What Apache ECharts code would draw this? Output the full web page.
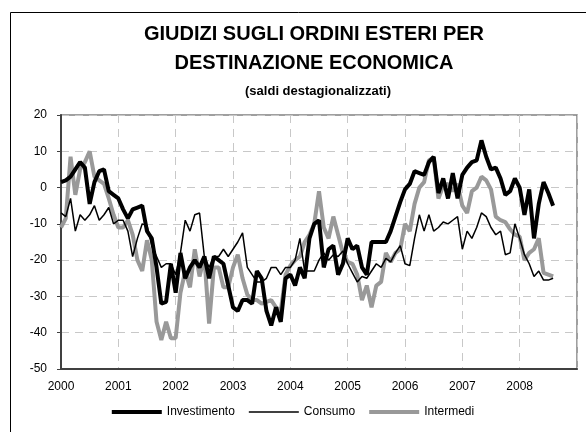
<!DOCTYPE html>
<html>
<head>
<meta charset="utf-8">
<script src="https://cdn.jsdelivr.net/npm/echarts@6/dist/echarts.min.js"></script>
<style>
html,body{margin:0;padding:0;background:#fff;}
#chart{width:586px;height:432px;}
</style>
</head>
<body>
<div id="chart"></div>
<script>
const years = ['2000','2001','2002','2003','2004','2005','2006','2007','2008'];
const seriesNames = ['Investimento','Consumo','Intermedi'];
const titleLines = ['GIUDIZI SUGLI ORDINI ESTERI PER','DESTINAZIONE ECONOMICA'];
const subtitle = '(saldi destagionalizzati)';

// monthly values, Jan 2000 - Aug 2008
const investimento = [
 1.5, 2, 3, 5, 7, 5.5, -4.5, 1.5, 4.5, 5, -1, -2,
 -3, -6, -8.5, -6, -5.5, -5, -12, -14, -22, -32, -31.5, -21,
 -29, -18, -25, -22, -20, -22, -19, -25, -19, -20, -21, -27,
 -33, -34, -31, -31, -32, -23, -25, -34, -38, -33, -37, -25,
 -24, -27, -22, -25, -14, -10, -9, -22, -17, -16, -24, -21,
 -14, -17, -16, -22, -24, -15, -15, -15, -15, -12, -8, -4,
 -0.5, 1, 4.5, 4, 3.5, 7, 8.5, -1.5, 2.5, -3, 4, -3,
 3.5, 5.5, 7, 7.5, 13, 8.5, 5, 5.5, 2.5, -2, -1, 2.5,
 0, -7.5, -0.5, -14, -4.5, 1.5, -1.5, -5
];
const consumo = [
 -7, -8, -3, -12, -7.5, -9, -7.5, -5, -9, -7.5, -5.5, -10,
 -9, -9, -12, -19, -14, -10, -10.5, -16, -19, -22, -21, -21,
 -24, -18, -9, -12, -7.5, -7, -19, -22, -19, -19, -17, -19,
 -17, -15, -12.5, -22, -24, -26, -26, -25, -22, -22, -24, -22,
 -22, -20, -14, -23, -23, -23, -20, -18, -20, -18.5, -19, -17.5,
 -21, -23.5, -26, -24.5, -25, -23, -21, -22, -19.5, -20.5, -18, -16,
 -21, -21.5, -14, -7.5, -12, -7.5, -12, -11, -9.5, -10, -9, -8,
 -17, -12, -14, -11, -7, -8, -11, -13, -12, -18.5, -18, -10,
 -14, -18.5, -21, -24.5, -23, -25.5, -25.5, -25
];
const intermedi = [
 -11, -8.5, 8.5, -2, 5, 7, 10, 3, 2, 1, -3, -7.5,
 -11, -11, -9, -13, -20, -23, -14.5, -20, -37, -42, -37, -41.5,
 -41.5, -29, -23, -27.5, -17, -24.5, -19, -37.5, -22, -22, -27.5, -27.5,
 -22, -18.5, -25, -29.5, -31, -31, -32, -31.5, -31, -33, -34, -24,
 -21.5, -20, -19, -15, -13, -10, -1, -11, -14, -8, -13, -18,
 -20.5, -21, -24, -31, -27, -33, -27, -26, -18, -20.5, -18, -17,
 -10, -12, -4.5, 0, 1.5, 7.5, 8.3, -3, 0.5, 1, -1, 1,
 -5, -7, -1, 0, 3, 2, -0.5, -8, -9, -9.5, -11.5, -13,
 -13.5, -20, -18, -17, -14, -23.5, -24, -24.5
];

const categories = [];
years.forEach(y => { for (let m = 1; m <= 12; m++) categories.push(y + '-' + m); });
categories.push('2009-1');

const FONT = 'Liberation Sans, Arial, sans-serif';
const chart = echarts.init(document.getElementById('chart'), null, {renderer: 'canvas'});
const yearTick = idx => idx % 12 === 0;

chart.setOption({
  animation: false,
  backgroundColor: '#fff',
  textStyle: {fontFamily: FONT},
  graphic: [
    {type: 'rect', shape: {x: 10.5, y: 12.5, width: 700, height: 500}, style: {fill: 'none', stroke: '#000', lineWidth: 1}, silent: true, z: -1},
    {type: 'text', x: 314, y: 34, style: {text: titleLines[0], font: 'bold 20px ' + FONT, fill: '#000', textAlign: 'center', textVerticalAlign: 'middle'}},
    {type: 'text', x: 314, y: 63, style: {text: titleLines[1], font: 'bold 20px ' + FONT, fill: '#000', textAlign: 'center', textVerticalAlign: 'middle'}},
    {type: 'text', x: 318, y: 91, style: {text: subtitle, font: 'bold 13px ' + FONT, fill: '#000', textAlign: 'center', textVerticalAlign: 'middle'}}
  ],
  grid: {left: 61, right: 9, top: 115, bottom: 63, show: true, borderColor: '#808080', borderWidth: 1.5, containLabel: false},
  legend: {
    data: [
      {name: seriesNames[0], icon: 'path://M0,0H50V4H0Z'},
      {name: seriesNames[1], icon: 'path://M0,0H50V1.5H0Z'},
      {name: seriesNames[2], icon: 'path://M0,0H50V4H0Z'}
    ],
    bottom: 9, left: 'center',
    itemWidth: 50, itemHeight: 10, itemGap: 14,
    textStyle: {fontSize: 12, color: '#000', fontFamily: FONT}
  },
  xAxis: {
    type: 'category', data: categories, boundaryGap: false,
    axisLine: {onZero: false, lineStyle: {color: '#404040', width: 2}},
    axisTick: {show: false},
    axisLabel: {interval: (i) => yearTick(i) && i < years.length * 12, formatter: v => v.slice(0, 4), fontSize: 12, color: '#000', margin: 12, fontFamily: FONT},
    splitLine: {show: true, interval: (i) => yearTick(i), lineStyle: {color: '#c8c8c8', type: [8, 6], width: 1}}
  },
  yAxis: {
    type: 'value', min: -50, max: 20, interval: 10,
    axisLine: {show: true, lineStyle: {color: '#404040', width: 2}},
    axisTick: {show: true, length: 4, lineStyle: {color: '#404040'}},
    axisLabel: {fontSize: 12, color: '#000', margin: 14, fontFamily: FONT},
    splitLine: {show: true, lineStyle: {color: '#c8c8c8', type: [8, 6], width: 1}}
  },
  series: [
    {name: seriesNames[0], type: 'line', data: investimento, symbol: 'none', lineStyle: {color: '#000', width: 4}, itemStyle: {color: '#000'}, z: 3},
    {name: seriesNames[1], type: 'line', data: consumo, symbol: 'none', lineStyle: {color: '#000', width: 1.5}, itemStyle: {color: '#000'}, z: 4},
    {name: seriesNames[2], type: 'line', data: intermedi, symbol: 'none', lineStyle: {color: '#999', width: 4}, itemStyle: {color: '#999'}, z: 2}
  ]
});
</script>
</body>
</html>
